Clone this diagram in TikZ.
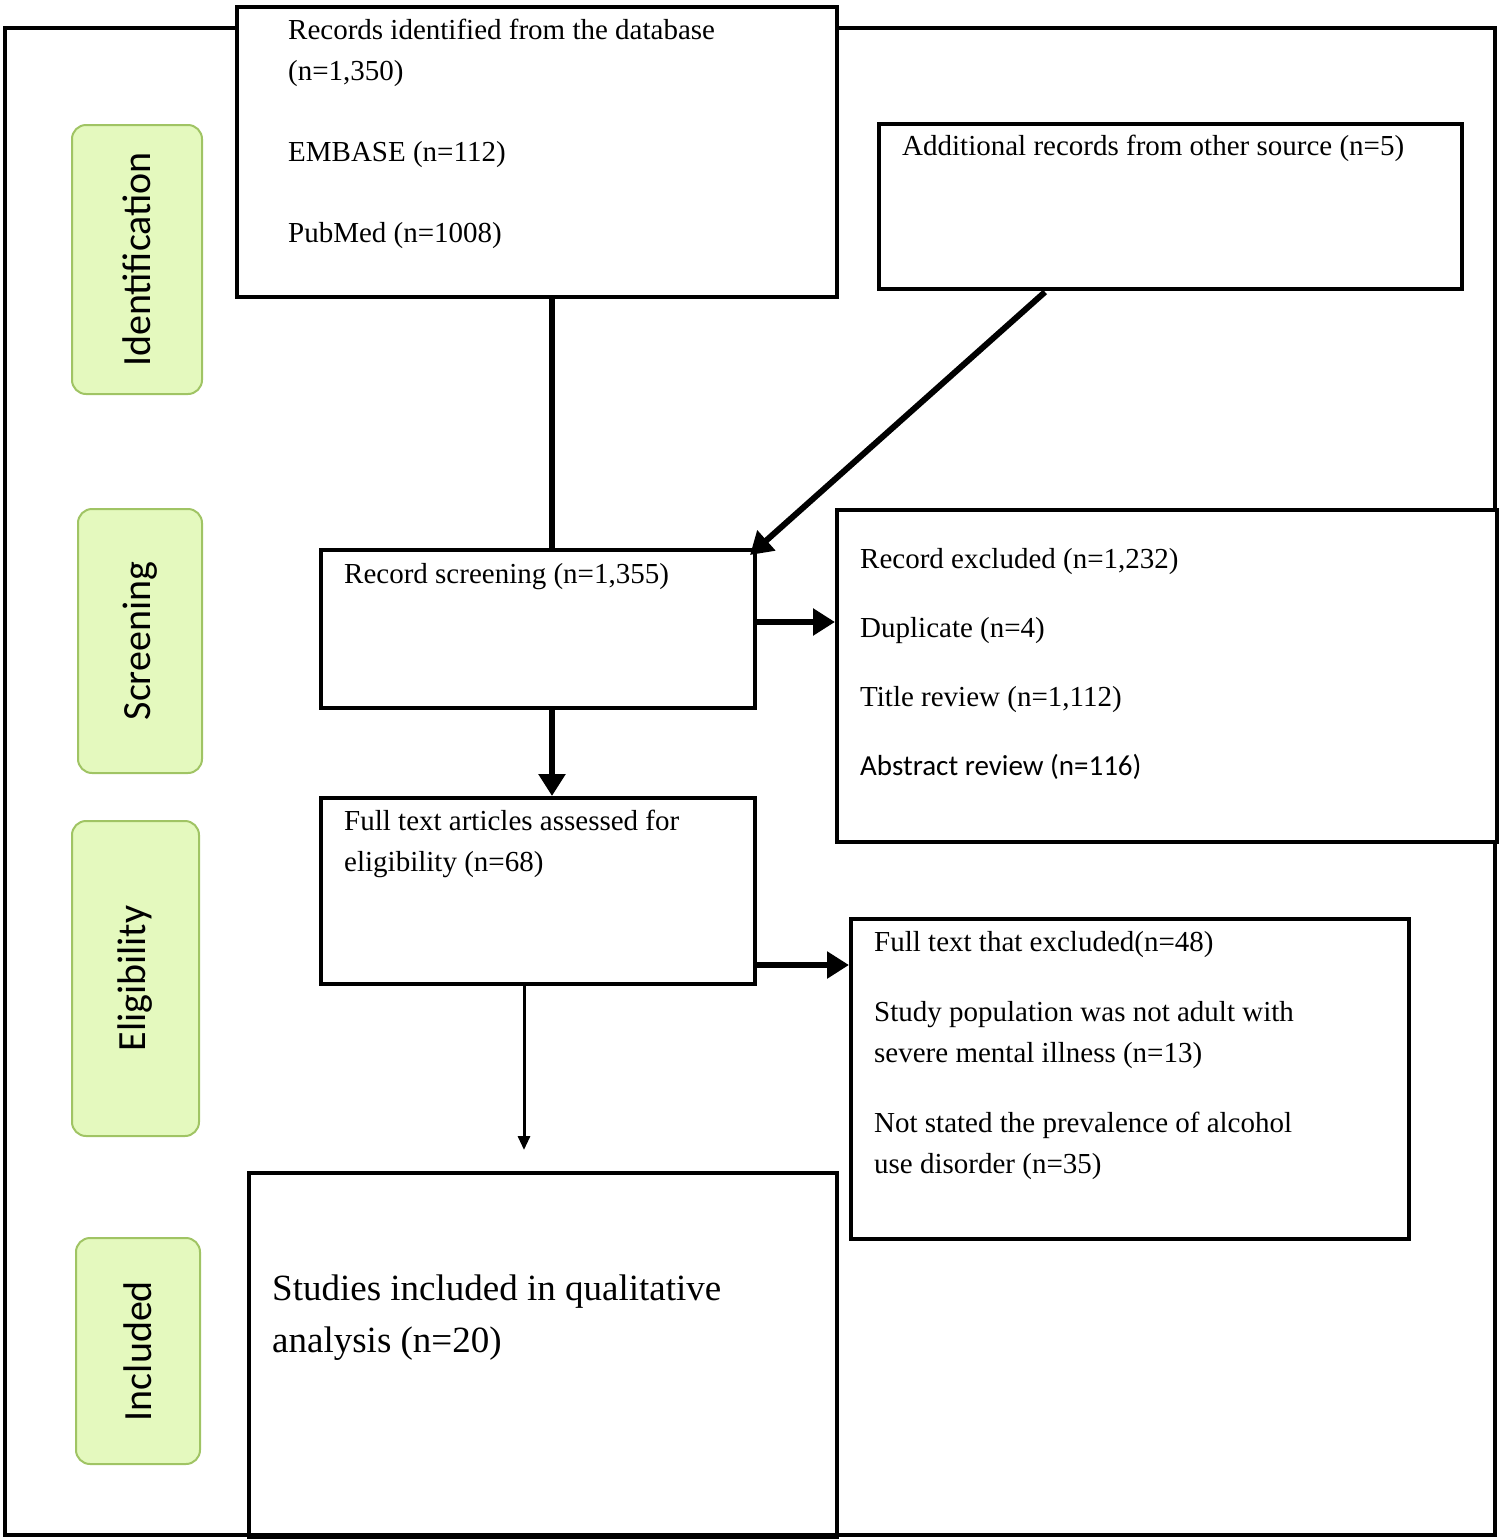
\documentclass[tikz,border=0pt]{standalone}
\usepackage{fontspec}
\setmainfont{Liberation Serif}
\newfontfamily\stagefont{Carlito}
\usetikzlibrary{arrows.meta}
\definecolor{stagefill}{RGB}{228,249,190}
\definecolor{stageline}{RGB}{160,196,100}

\tikzset{
  box/.style={draw, line width=4pt, anchor=north west, inner sep=0pt},
  txt/.style={anchor=north west, align=left, inner sep=0pt, font=\fontsize{29}{41}\selectfont},
  stage/.style={draw=stageline, fill=stagefill, line width=2pt, rounded corners=14pt,
    anchor=north west, inner sep=0pt},
  stagetxt/.style={rotate=90, font=\stagefont\fontsize{40}{46}\selectfont},
  flow/.style={line width=6pt, -{Triangle[length=22pt,width=26pt]}},
}

\begin{document}
\begin{tikzpicture}[x=1pt,y=-1pt]
\useasboundingbox (0,0) rectangle (1500,1540);

% outer frame
\draw[line width=4pt] (5,28) rectangle (1495,1535);

% stage labels
\node[stage, minimum width=130pt, minimum height=269pt] (idbox) at (71,124) {};
\node[stagetxt] (idtxt) at (idbox.center) {Identification};
\node[stage, minimum width=124pt, minimum height=264pt] (scbox) at (77,508) {};
\node[stagetxt] (sctxt) at (scbox.center) {Screening};
\node[stage, minimum width=127pt, minimum height=315pt] (elbox) at (71,820) {};
\node[stagetxt] (eltxt) at (elbox.center) {Eligibility};
\node[stage, minimum width=124pt, minimum height=226pt] (inbox) at (75,1237) {};
\node[stagetxt] (intxt) at (inbox.center) {Included};

% boxes
\node[box, fill=white, minimum width=600pt, minimum height=290pt] (db) at (235,5) {};
\node[txt] (dbtxt) at (288,19) {Records identified from the database\\(n=1,350)\\[40pt]EMBASE (n=112)\\[40pt]PubMed (n=1008)};

\node[box, minimum width=583pt, minimum height=165pt] (add) at (877,122) {};
\node[txt] (addtxt) at (902,135) {Additional records from other source (n=5)};

\node[box, minimum width=434pt, minimum height=158pt] (screen) at (319,548) {};
\node[txt] (screentxt) at (344,563) {Record screening (n=1,355)};

\node[box, fill=white, minimum width=660pt, minimum height=332pt] (excl) at (835,508) {};
\node[txt] (excltxt) at (860,548) {Record excluded (n=1,232)\\[28pt]Duplicate (n=4)\\[28pt]Title review (n=1,112)\\[28pt]{\stagefont Abstract review (n=116)}};

\node[box, minimum width=434pt, minimum height=186pt] (full) at (319,796) {};
\node[txt] (fulltxt) at (344,810) {Full text articles assessed for\\eligibility (n=68)};

\node[box, minimum width=558pt, minimum height=320pt] (fexcl) at (849,917) {};
\node[txt] (fexcltxt) at (874,931) {Full text that excluded(n=48)\\[29pt]Study population was not adult with\\severe mental illness (n=13)\\[29pt]Not stated the prevalence of alcohol\\use disorder (n=35)};

\node[box, minimum width=588pt, minimum height=364pt] (incl) at (247,1171) {};
\node[txt, font=\fontsize{37}{52}\selectfont] (incltxt) at (272,1275) {Studies included in qualitative\\analysis (n=20)};

% connectors
\coordinate (addfoot) at (1045,292);
\coordinate (inclhead) at (524,1150);
\draw[line width=6pt] (db.south -| 552,0) -- (screen.north -| 552,0);
\draw[flow] (addfoot) -- (750,555);
\draw[flow] (screen.east |- 0,622) -- (excl.west |- 0,622);
\draw[flow] (screen.south -| 552,0) -- (full.north -| 552,0);
\draw[flow] (full.east |- 0,965) -- (fexcl.west |- 0,965);
\draw[line width=3pt, -{Triangle[length=14pt,width=12pt]}] (full.south -| inclhead) -- (inclhead);

\end{tikzpicture}
\end{document}
